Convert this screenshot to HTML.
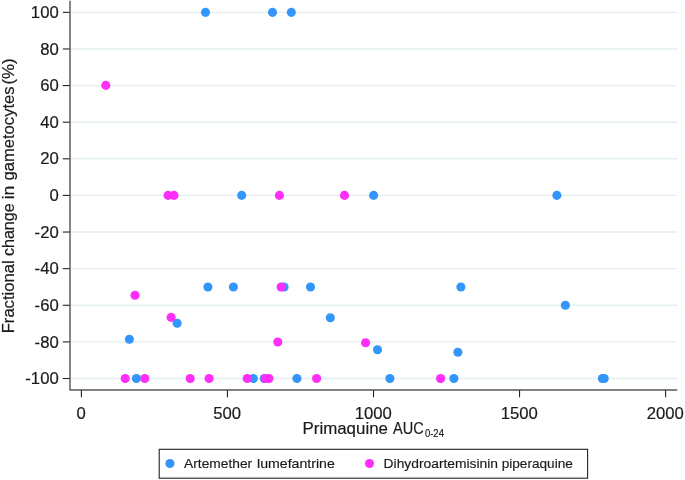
<!DOCTYPE html>
<html><head><meta charset="utf-8"><title>Fractional change in gametocytes vs Primaquine AUC</title>
<style>html,body{margin:0;padding:0;background:#fff}svg{display:block}text{font-family:"Liberation Sans",sans-serif;fill:#1a1a1a;stroke:#1a1a1a;stroke-width:0.18px}</style></head>
<body>
<svg width="685" height="480" viewBox="0 0 685 480">
<rect width="685" height="480" fill="#fff"/>
<g stroke="#e4eef0" stroke-width="1.4">
<line x1="70" x2="677.2" y1="12.35" y2="12.35"/>
<line x1="70" x2="677.2" y1="48.97" y2="48.97"/>
<line x1="70" x2="677.2" y1="85.58" y2="85.58"/>
<line x1="70" x2="677.2" y1="122.19" y2="122.19"/>
<line x1="70" x2="677.2" y1="158.81" y2="158.81"/>
<line x1="70" x2="677.2" y1="195.42" y2="195.42"/>
<line x1="70" x2="677.2" y1="232.04" y2="232.04"/>
<line x1="70" x2="677.2" y1="268.66" y2="268.66"/>
<line x1="70" x2="677.2" y1="305.27" y2="305.27"/>
<line x1="70" x2="677.2" y1="341.89" y2="341.89"/>
<line x1="70" x2="677.2" y1="378.50" y2="378.50"/>
</g>
<g fill="#3296fa">
<circle cx="205.5" cy="12.35" r="4.55"/>
<circle cx="272.5" cy="12.35" r="4.55"/>
<circle cx="291.3" cy="12.35" r="4.55"/>
<circle cx="241.7" cy="195.4" r="4.55"/>
<circle cx="373.6" cy="195.4" r="4.55"/>
<circle cx="556.9" cy="195.4" r="4.55"/>
<circle cx="207.9" cy="287.0" r="4.55"/>
<circle cx="233.4" cy="287.0" r="4.55"/>
<circle cx="284.1" cy="287.0" r="4.55"/>
<circle cx="310.5" cy="287.0" r="4.55"/>
<circle cx="460.9" cy="287.0" r="4.55"/>
<circle cx="565.4" cy="305.3" r="4.55"/>
<circle cx="177.1" cy="323.3" r="4.55"/>
<circle cx="330.3" cy="317.7" r="4.55"/>
<circle cx="129.4" cy="339.2" r="4.55"/>
<circle cx="377.5" cy="349.7" r="4.55"/>
<circle cx="457.9" cy="352.3" r="4.55"/>
<circle cx="136.4" cy="378.5" r="4.55"/>
<circle cx="253.3" cy="378.5" r="4.55"/>
<circle cx="264.3" cy="378.5" r="4.55"/>
<circle cx="296.9" cy="378.5" r="4.55"/>
<circle cx="389.9" cy="378.5" r="4.55"/>
<circle cx="453.9" cy="378.5" r="4.55"/>
<circle cx="602.4" cy="378.5" r="4.55"/>
<circle cx="604.2" cy="378.5" r="4.55"/>
</g>
<g fill="#ff2dfa">
<circle cx="105.8" cy="85.4" r="4.55"/>
<circle cx="168.1" cy="195.4" r="4.55"/>
<circle cx="174.0" cy="195.4" r="4.55"/>
<circle cx="279.4" cy="195.4" r="4.55"/>
<circle cx="344.5" cy="195.4" r="4.55"/>
<circle cx="281.1" cy="287.0" r="4.55"/>
<circle cx="135.0" cy="295.3" r="4.55"/>
<circle cx="171.1" cy="317.4" r="4.55"/>
<circle cx="277.8" cy="342.0" r="4.55"/>
<circle cx="365.6" cy="342.7" r="4.55"/>
<circle cx="125.2" cy="378.5" r="4.55"/>
<circle cx="144.8" cy="378.5" r="4.55"/>
<circle cx="190.2" cy="378.5" r="4.55"/>
<circle cx="209.1" cy="378.5" r="4.55"/>
<circle cx="247.2" cy="378.5" r="4.55"/>
<circle cx="265.3" cy="378.5" r="4.55"/>
<circle cx="268.9" cy="378.5" r="4.55"/>
<circle cx="316.6" cy="378.5" r="4.55"/>
<circle cx="440.6" cy="378.5" r="4.55"/>
</g>
<path d="M70 0.7 V389.9 H677.2" fill="none" stroke="#585858" stroke-width="1.45" stroke-linejoin="round"/>
<g stroke="#222" stroke-width="1.1">
<line x1="62.8" x2="69.6" y1="12.35" y2="12.35"/>
<line x1="62.8" x2="69.6" y1="48.97" y2="48.97"/>
<line x1="62.8" x2="69.6" y1="85.58" y2="85.58"/>
<line x1="62.8" x2="69.6" y1="122.19" y2="122.19"/>
<line x1="62.8" x2="69.6" y1="158.81" y2="158.81"/>
<line x1="62.8" x2="69.6" y1="195.42" y2="195.42"/>
<line x1="62.8" x2="69.6" y1="232.04" y2="232.04"/>
<line x1="62.8" x2="69.6" y1="268.66" y2="268.66"/>
<line x1="62.8" x2="69.6" y1="305.27" y2="305.27"/>
<line x1="62.8" x2="69.6" y1="341.89" y2="341.89"/>
<line x1="62.8" x2="69.6" y1="378.50" y2="378.50"/>
<line x1="81.40" x2="81.40" y1="390.3" y2="397.2"/>
<line x1="227.45" x2="227.45" y1="390.3" y2="397.2"/>
<line x1="373.50" x2="373.50" y1="390.3" y2="397.2"/>
<line x1="519.55" x2="519.55" y1="390.3" y2="397.2"/>
<line x1="665.60" x2="665.60" y1="390.3" y2="397.2"/>
</g>
<g font-size="15.6" text-anchor="end">
<text transform="translate(58.7 18.00) scale(1.07 1)">100</text>
<text transform="translate(58.7 54.62) scale(1.07 1)">80</text>
<text transform="translate(58.7 91.23) scale(1.07 1)">60</text>
<text transform="translate(58.7 127.84) scale(1.07 1)">40</text>
<text transform="translate(58.7 164.46) scale(1.07 1)">20</text>
<text transform="translate(58.7 201.07) scale(1.07 1)">0</text>
<text transform="translate(58.7 237.69) scale(1.07 1)">-20</text>
<text transform="translate(58.7 274.31) scale(1.07 1)">-40</text>
<text transform="translate(58.7 310.92) scale(1.07 1)">-60</text>
<text transform="translate(58.7 347.54) scale(1.07 1)">-80</text>
<text transform="translate(58.7 384.15) scale(1.07 1)">-100</text>
</g>
<g font-size="15.6" text-anchor="middle">
<text transform="translate(81.10 418.7) scale(1.07 1)">0</text>
<text transform="translate(227.15 418.7) scale(1.07 1)">500</text>
<text transform="translate(373.20 418.7) scale(1.07 1)">1000</text>
<text transform="translate(519.25 418.7) scale(1.07 1)">1500</text>
<text transform="translate(665.30 418.7) scale(1.07 1)">2000</text>
</g>
<g transform="translate(13.5 332) rotate(-90)">
<text font-size="15.9" transform="translate(-1.30 0) scale(1.0456 1)">Fractional</text>
<text font-size="15.9" transform="translate(75.90 0) scale(1.0113 1)">change</text>
<text font-size="15.9" transform="translate(132.70 0) scale(1.1059 1)">in</text>
<text font-size="15.9" transform="translate(151.38 0) scale(1.0465 1)">gametocytes</text>
<text font-size="15.9" transform="translate(247.41 0) scale(1.0665 1)">(%)</text>
</g>
<text font-size="15.9" transform="translate(302.48 433.7) scale(1.0632 1)">Primaquine</text>
<text font-size="15.9" transform="translate(393.00 433.7) scale(0.9146 1)">AUC</text>
<text font-size="10.2" transform="translate(424.90 436.7) scale(0.9324 1)">0-24</text>
<rect x="159.2" y="449.3" width="428.4" height="28.9" fill="#fff" stroke="#222" stroke-width="1.1"/>
<circle cx="169.9" cy="463.5" r="4.55" fill="#3296fa"/>
<circle cx="369.5" cy="463.5" r="4.55" fill="#ff2dfa"/>
<text font-size="12.3" style="stroke-width:0.15px" transform="translate(184.10 467.8) scale(1.1204 1)">Artemether</text>
<text font-size="12.3" style="stroke-width:0.15px" transform="translate(257.02 467.8) scale(1.1503 1)">lumefantrine</text>
<text font-size="12.3" style="stroke-width:0.15px" transform="translate(383.62 467.8) scale(1.1237 1)">Dihydroartemisinin</text>
<text font-size="12.3" style="stroke-width:0.15px" transform="translate(501.65 467.8) scale(1.1092 1)">piperaquine</text>
</svg>
</body></html>
